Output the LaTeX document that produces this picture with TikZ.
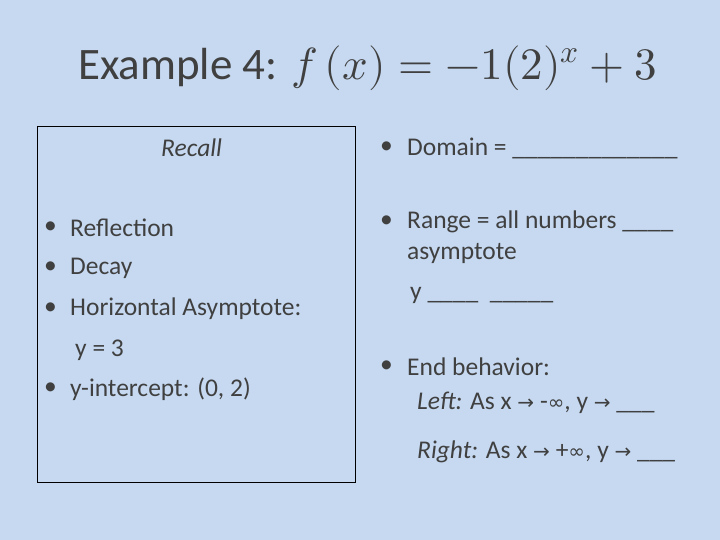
\documentclass[tikz,border=0pt]{standalone}
\usepackage{fontspec}
\usepackage{unicode-math}
\setmathfont{Latin Modern Math}
\setmainfont{Carlito}
\newfontfamily\djv{DejaVu Sans}
\definecolor{bg}{HTML}{C6D9F1}
\definecolor{tx}{HTML}{404040}
\newcommand{\ar}{{\djv\fontsize{20}{22}\selectfont →}}
\newcommand{\inff}{{\djv\fontsize{20}{22}\selectfont ∞}}
\begin{document}
\begin{tikzpicture}[x=1pt,y=-1pt,
  every node/.style={inner sep=0pt,text=tx},
  bt/.style={anchor=west,font=\fontsize{25.5}{28}\selectfont},
  bl/.style={anchor=west,font=\fontsize{25.5}{28}\selectfont}]
\fill[bg] (0,0) rectangle (720,540);
\useasboundingbox (0,0) rectangle (720,540);
\node[anchor=west] (title) at (78,68) {\fontsize{45}{50}\selectfont Example 4: $f\,(x) = -1(2)^{x} + 3$};
\draw[black,line width=0.8pt,fill=bg] (37,126) rectangle (355,482);
\node[bl,font=\itshape\fontsize{25.5}{28}\selectfont] (rec) at (161,148) {Recall};
\node[bl] (b1) at (44,228) {•}; \node[bt] (t1) at (70,228) {Reflection};
\node[bl] (b2) at (44,268) {•}; \node[bt] (t2) at (70,268) {Decay};
\node[bl] (b3) at (44,309) {•}; \node[bt] (t3) at (70,309) {Horizontal Asymptote:};
\node[bt] (t3b) at (75,350) {y = 3};
\node[bl] (b4) at (44,389) {•}; \node[bt] (t4) at (70,389) {y-intercept: (0, 2)};
\node[bl] (r1) at (380,148) {•}; \node[bt] (s1) at (407,148) {Domain = \_\_\_\_\_\_\_\_\_\_\_\_\_};
\node[bl] (r2) at (380,222) {•}; \node[bt] (s2) at (407,222) {Range = all numbers \_\_\_\_};
\node[bt] (s2b) at (407,253) {asymptote};
\node[bt] (s2c) at (410,295) {y \_\_\_\_ \ \_\_\_\_\_};
\node[bl] (r3) at (380,367) {•}; \node[bt] (s3) at (407,367) {End behavior:};
\node[bt] (s4) at (417,403) {\textit{Left:} As x \ar{} -\inff, y \ar{} \_\_\_};
\node[bt] (s5) at (417,452) {\textit{Right:} As x \ar{} +\inff, y \ar{} \_\_\_};
\end{tikzpicture}
\end{document}
